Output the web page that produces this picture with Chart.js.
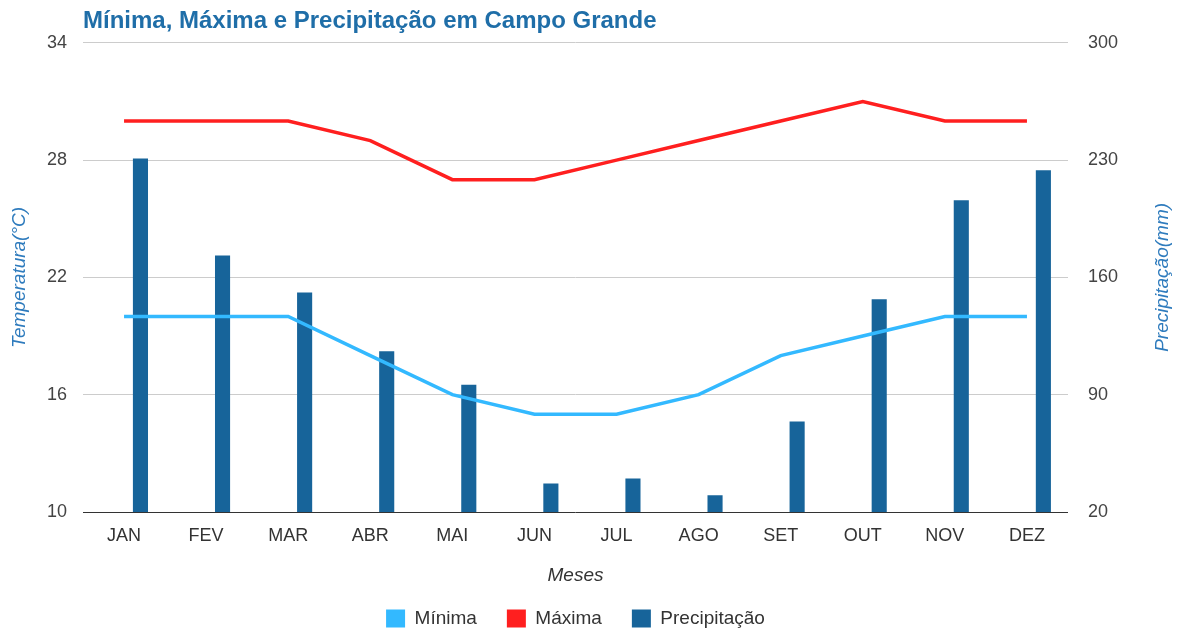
<!DOCTYPE html>
<html>
<head>
<meta charset="utf-8">
<script src="https://cdn.jsdelivr.net/npm/chart.js@4"></script>
<style>
  html, body { margin: 0; padding: 0; background: #fff; }
  #wrap { width: 1182px; height: 631px; }
</style>
</head>
<body>
<div id="wrap"><canvas id="climaChart"></canvas></div>
<script>
const meses = ['JAN', 'FEV', 'MAR', 'ABR', 'MAI', 'JUN', 'JUL', 'AGO', 'SET', 'OUT', 'NOV', 'DEZ'];
const minima = [20, 20, 20, 18, 16, 15, 15, 16, 18, 19, 20, 20];
const maxima = [30, 30, 30, 29, 27, 27, 28, 29, 30, 31, 30, 30];
const precipitacao = [231, 173, 151, 116, 96, 37, 40, 30, 74, 147, 206, 224];
const tempTicks = [10, 16, 22, 28, 34];
const precTicks = [20, 90, 160, 230, 300];
const tituloPrec = 'Precipitação(mm)';

Chart.defaults.font.family = "'Liberation Sans', Arial, sans-serif";
Chart.defaults.color = '#444';

// right axis title reads bottom-to-top like the left one
const rightTitlePlugin = {
    id: 'rightTitle',
    afterDraw(chart) {
        const c = chart.ctx;
        const area = chart.chartArea;
        c.save();
        c.translate(1163, (area.top + area.bottom) / 2);
        c.rotate(-Math.PI / 2);
        c.font = "italic 19px 'Liberation Sans', Arial, sans-serif";
        c.fillStyle = '#2e7bbd';
        c.textAlign = 'center';
        c.textBaseline = 'middle';
        c.fillText(tituloPrec, 0, 0);
        c.restore();
    }
};

const ctx = document.getElementById('climaChart').getContext('2d');

new Chart(ctx, {
    type: 'bar',
    data: {
        labels: meses,
        datasets: [
            {
                type: 'line',
                label: 'Mínima',
                data: minima,
                yAxisID: 'yTemp',
                borderColor: '#33b9ff',
                backgroundColor: '#33b9ff',
                borderWidth: 3.5,
                pointRadius: 0,
                tension: 0,
                order: 0
            },
            {
                type: 'line',
                label: 'Máxima',
                data: maxima,
                yAxisID: 'yTemp',
                borderColor: '#ff1f1f',
                backgroundColor: '#ff1f1f',
                borderWidth: 3.5,
                pointRadius: 0,
                tension: 0,
                order: 0
            },
            {
                // empty slot so the bars sit right of the month centre
                label: '_vazio',
                data: meses.map(() => null),
                yAxisID: 'yPrec',
                backgroundColor: 'rgba(0,0,0,0)',
                order: 1
            },
            {
                label: 'Precipitação',
                data: precipitacao,
                yAxisID: 'yPrec',
                backgroundColor: '#17649a',
                borderWidth: 0,
                categoryPercentage: 0.8,
                barPercentage: 0.46,
                order: 1
            }
        ]
    },
    options: {
        responsive: true,
        maintainAspectRatio: false,
        animation: false,
        layout: { padding: { left: 0, right: 0, top: 0, bottom: 0 } },
        scales: {
            x: {
                grid: { display: false, drawTicks: false },
                border: { display: false },
                ticks: { font: { size: 18 }, color: '#333', padding: 13 },
                title: {
                    display: true,
                    text: 'Meses',
                    color: '#333',
                    font: { size: 19, style: 'italic' },
                    padding: { top: 0, bottom: -8 }
                },
                afterFit: (scale) => { scale.height = 67; }
            },
            yTemp: {
                position: 'left',
                min: 10,
                max: 34,
                afterBuildTicks: (scale) => { scale.ticks = tempTicks.map(v => ({ value: v })); },
                grid: {
                    drawTicks: false,
                    color: (c) => c.tick && c.tick.value === 10 ? '#333' : '#cccccc',
                    lineWidth: 1
                },
                border: { display: false },
                ticks: { font: { size: 18 }, color: '#444', padding: 16 },
                title: {
                    display: true,
                    text: 'Temperatura(°C)',
                    color: '#2e7bbd',
                    font: { size: 19, style: 'italic' },
                    padding: { top: 8, bottom: 0 }
                },
                afterFit: (scale) => { scale.width = 83; }
            },
            yPrec: {
                position: 'right',
                min: 20,
                max: 300,
                afterBuildTicks: (scale) => { scale.ticks = precTicks.map(v => ({ value: v })); },
                grid: { display: false, drawTicks: false },
                border: { display: false },
                ticks: { font: { size: 18 }, color: '#444', padding: 20 },
                title: { display: false },
                afterFit: (scale) => { scale.width = 114; }
            }
        },
        plugins: {
            title: {
                display: true,
                text: 'Mínima, Máxima e Precipitação em Campo Grande',
                align: 'start',
                fullSize: false,
                color: '#1f6ea8',
                font: { size: 24, weight: 'bold' },
                padding: { top: 7, bottom: 7 }
            },
            legend: {
                position: 'bottom',
                fullSize: false,
                maxHeight: 52,
                labels: {
                    boxWidth: 19,
                    boxHeight: 18,
                    padding: 30,
                    color: '#333',
                    font: { size: 19 },
                    filter: (item) => !item.text.startsWith('_'),
                    generateLabels: (chart) => {
                        const items = Chart.defaults.plugins.legend.labels.generateLabels(chart);
                        items.forEach(it => { it.lineWidth = 0; it.strokeStyle = 'rgba(0,0,0,0)'; });
                        return items;
                    }
                }
            },
            tooltip: { enabled: false }
        }
    },
    plugins: [rightTitlePlugin]
});
</script>
</body>
</html>
